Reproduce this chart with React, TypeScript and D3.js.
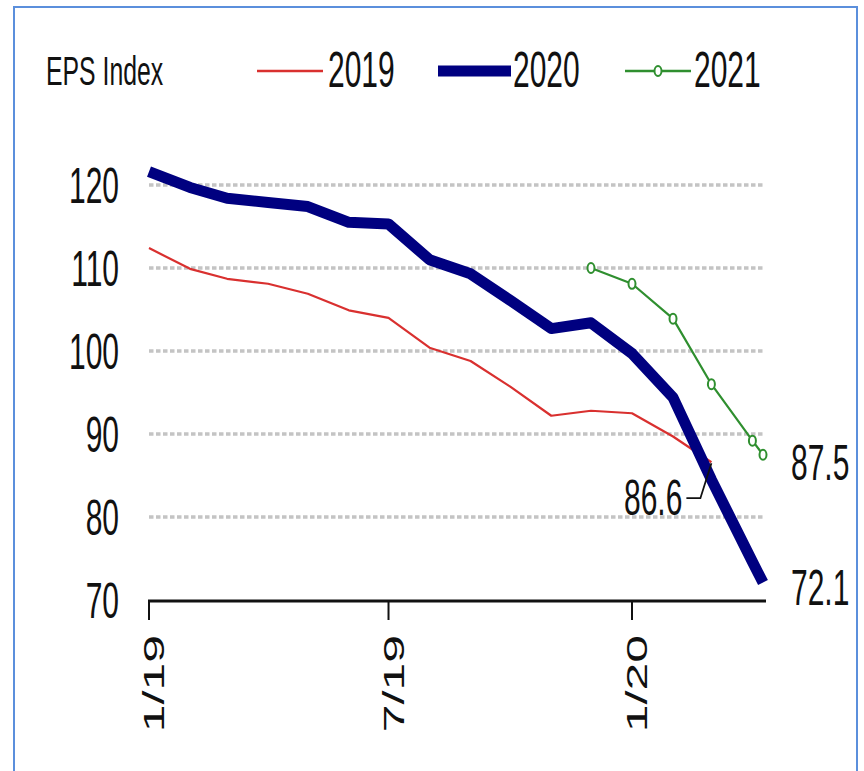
import React from "react";
import * as d3 from "d3";

// EPS index readings by month, three forward-year estimate series
const redDates = [
  "2019-01-01", "2019-02-01", "2019-03-01", "2019-04-01", "2019-05-01",
  "2019-06-01", "2019-07-01", "2019-08-01", "2019-09-01", "2019-10-01",
  "2019-11-01", "2019-12-01", "2020-01-01", "2020-02-01", "2020-03-01",
];
const redValues = [112.4, 109.9, 108.7, 108.1, 106.9, 104.9, 104.0, 100.4, 98.8, 95.7, 92.2, 92.8, 92.5, 89.7, 86.6];

const blueDates = [
  "2019-01-01", "2019-02-01", "2019-03-01", "2019-04-01", "2019-05-01",
  "2019-06-01", "2019-07-01", "2019-08-01", "2019-09-01", "2019-10-01",
  "2019-11-01", "2019-12-01", "2020-01-01", "2020-02-01", "2020-03-01",
  "2020-04-01", "2020-04-09",
];
const blueValues = [121.6, 119.7, 118.4, 117.9, 117.4, 115.5, 115.3, 111.0, 109.3, 106.1, 102.7, 103.4, 99.7, 94.4, 84.5, 74.6, 72.1];

const greenDates = ["2019-12-01", "2020-01-01", "2020-02-01", "2020-03-01", "2020-04-01", "2020-04-09"];
const greenValues = [110.0, 108.1, 103.9, 96.0, 89.2, 87.5];

const seriesNames = ["2019", "2020", "2021"];
const yTicks = [70, 80, 90, 100, 110, 120];
const gridValues = [80, 90, 100, 110, 120];
const xTickDates = ["2019-01-01", "2019-07-01", "2020-01-01"];
const xTickLabels = ["1/19", "7/19", "1/20"];
const axisTitle = "EPS Index";

const RED = "#d9302f";
const NAVY = "#000080";
const GREEN = "#2f8f2f";
const FONT = "'Liberation Sans', Arial, sans-serif";
const SX = 0.6; // horizontal compression of the lettering

type Pt = { date: Date; value: number };
const toPts = (ds: string[], vs: number[]): Pt[] =>
  ds.map((d, i) => ({ date: new Date(d + "T00:00:00"), value: vs[i] }));

export default function App() {
  const W = 864;
  const H = 771;

  const x = d3
    .scaleTime()
    .domain([new Date("2019-01-01T00:00:00"), new Date("2020-04-09T00:00:00")])
    .range([149, 763]);
  const y = d3.scaleLinear().domain([70, 120]).range([600, 185]);

  const line = d3
    .line<Pt>()
    .x((p) => x(p.date))
    .y((p) => y(p.value));

  const red = toPts(redDates, redValues);
  const blue = toPts(blueDates, blueValues);
  const green = toPts(greenDates, greenValues);

  const redEnd = red[red.length - 1];
  const blueEnd = blue[blue.length - 1];
  const greenEnd = green[green.length - 1];

  const txt = (
    s: string,
    tx: number,
    ty: number,
    size: number,
    anchor: "start" | "end" | "middle",
    sx = SX,
    rot = 0
  ) => (
    <text
      key={s + tx + ty}
      transform={`translate(${tx},${ty}) scale(${sx},1)${rot ? ` rotate(${rot})` : ""}`}
      textAnchor={anchor}
      fontFamily={FONT}
      fontSize={size}
      fill="#111"
    >
      {s}
    </text>
  );

  const xLeft = x.range()[0];
  const xRight = x.range()[1];
  const yAxis = y(70) + 1;

  const rx = x(redEnd.date);
  const ry = y(redEnd.value);

  return (
    <svg
      width={W}
      height={H}
      style={{ position: "absolute", left: 0, top: 0, background: "#fff" }}
    >
      <rect x={0} y={0} width={W} height={H} fill="#fff" />
      {/* frame */}
      <rect x={14} y={7} width={843} height={H + 10} fill="none" stroke="#5b8fdc" strokeWidth={2} />

      {/* legend */}
      {txt(axisTitle, 46, 85, 40, "start", 0.62)}
      <line x1={257} x2={323} y1={71} y2={71} stroke={RED} strokeWidth={2.5} />
      {txt(seriesNames[0], 328, 87, 50, "start")}
      <line x1={438} x2={511} y1={71} y2={71} stroke={NAVY} strokeWidth={11} />
      {txt(seriesNames[1], 513, 87, 50, "start")}
      <line x1={625} x2={691} y1={71} y2={71} stroke={GREEN} strokeWidth={2.5} />
      <ellipse cx={658} cy={71} rx={3.5} ry={5} fill="#fff" stroke={GREEN} strokeWidth={2} />
      {txt(seriesNames[2], 694, 87, 50, "start")}

      {/* grid */}
      {gridValues.map((v) => (
        <line
          key={v}
          x1={xLeft}
          x2={xRight + 2}
          y1={y(v)}
          y2={y(v)}
          stroke="#c4c4c4"
          strokeWidth={3.5}
          strokeDasharray="4.5 2.5"
        />
      ))}

      {/* y tick labels */}
      {yTicks.map((v) => txt(String(v), 119, y(v) + 18, 50, "end"))}

      {/* x axis */}
      <line x1={xLeft - 1} x2={xRight + 3} y1={yAxis} y2={yAxis} stroke="#111" strokeWidth={3} />
      {xTickDates.map((d, i) => {
        const xx = x(new Date(d + "T00:00:00"));
        return (
          <g key={d}>
            <line x1={xx} x2={xx} y1={yAxis} y2={yAxis + 19} stroke="#111" strokeWidth={2} />
            {txt(xTickLabels[i], xx + 15, 635, 50, "end", SX, -90)}
          </g>
        );
      })}

      {/* series */}
      <path d={line(red) ?? ""} fill="none" stroke={RED} strokeWidth={2.2} strokeLinejoin="round" />
      <path d={line(blue) ?? ""} fill="none" stroke={NAVY} strokeWidth={11} strokeLinejoin="round" />
      <path d={line(green) ?? ""} fill="none" stroke={GREEN} strokeWidth={2.2} strokeLinejoin="round" />
      {green.map((p, i) => (
        <ellipse
          key={i}
          cx={x(p.date)}
          cy={y(p.value)}
          rx={3.5}
          ry={5}
          fill="#fff"
          stroke={GREEN}
          strokeWidth={2}
        />
      ))}

      {/* end-value labels */}
      {txt(greenEnd.value.toFixed(1), x(greenEnd.date) + 28, y(greenEnd.value) + 25, 50, "start")}
      {txt(blueEnd.value.toFixed(1), x(blueEnd.date) + 28, y(blueEnd.value) + 22, 50, "start")}
      {txt(redEnd.value.toFixed(1), rx - 29, ry + 53, 50, "end")}
      <polyline
        points={`${rx - 25},${ry + 36} ${rx - 11},${ry + 36} ${rx},${ry + 1}`}
        fill="none"
        stroke="#111"
        strokeWidth={1.8}
      />
    </svg>
  );
}
